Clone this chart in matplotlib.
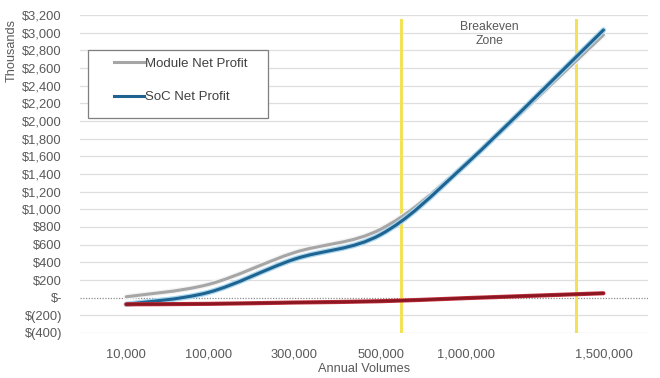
import numpy as np
import matplotlib
matplotlib.use("Agg")
import matplotlib.pyplot as plt
from matplotlib.path import Path
from matplotlib.patches import PathPatch, Rectangle
from matplotlib.lines import Line2D
import matplotlib.patheffects as pe

plt.rcParams['font.family'] = ['Liberation Sans', 'DejaVu Sans']

# data (thousands of $)
volumes = ['10,000', '100,000', '300,000', '500,000', '1,000,000', '1,500,000']
module_profit = [10, 150, 510, 775, 1520, 2975]
soc_profit = [-75, 60, 435, 715, 1515, 3030]
other_profit = [-75, -70, -55, -40, -5, 50]
breakeven_names = ['Breakeven\nZone']

# category positions on the axis (last label sits further right)
x_pos = [0.03, 0.99, 1.99, 3.0, 4.0, 5.6]
breakeven_x = [3.24, 5.28]

txt = '#595959'


def smooth_path(xs, ys):
    # excel style smoothed line: catmull-rom as cubic bezier
    pts = np.column_stack([xs, ys]).astype(float)
    n = len(pts)
    verts = [pts[0]]
    codes = [Path.MOVETO]
    for i in range(n - 1):
        p0 = pts[max(i - 1, 0)]
        p1 = pts[i]
        p2 = pts[i + 1]
        p3 = pts[min(i + 2, n - 1)]
        c1 = p1 + (p2 - p0) / 6.0
        c2 = p2 - (p3 - p1) / 6.0
        verts += [c1, c2, p2]
        codes += [Path.CURVE4] * 3
    return Path(verts, codes)


def money(v, pos=None):
    if v == 0:
        return '$-'
    if v < 0:
        return '$({:,.0f})'.format(-v)
    return '${:,.0f}'.format(v)


fig = plt.figure(figsize=(6.6, 3.78), dpi=100)
ax = fig.add_axes([80/660, 1-333/378, 568/660, 318/378])

ax.set_xlim(-0.51, 6.12)
ax.set_ylim(-400, 3200)
ax.set_yticks(np.arange(-400, 3201, 200))
ax.yaxis.set_major_formatter(plt.FuncFormatter(money))
ax.set_xticks(x_pos)
ax.set_xticklabels(volumes)
ax.tick_params(length=0, labelsize=9.3, colors=txt)
ax.tick_params(axis='x', pad=11)
ax.tick_params(axis='y', pad=13)
for s in ax.spines.values():
    s.set_visible(False)

for v in np.arange(-400, 3201, 200):
    if v == 0:
        ax.axhline(0, color='#8c8c8c', lw=0.9, ls=(0, (1, 1.2)), zorder=1)
    else:
        ax.axhline(v, color='#dedede', lw=0.9, zorder=1)

for bx in breakeven_x:
    ax.axvline(bx, color='#f4e15a', lw=2.2, ymax=0.985, ymin=0.0, zorder=2)

ax.text(4.27, 2985, breakeven_names[0], ha='center', va='center',
        fontsize=8.8, color=txt, linespacing=1.2)

series = [
    (module_profit, '#a6a6a6', '#f4f4f4', 'Module Net Profit', 2.2, 4.0),
    (soc_profit, '#1f6491', '#a9d6ef', 'SoC Net Profit', 2.2, 4.0),
    (other_profit, '#8a1722', '#c8323e', None, 2.0, 3.0),
]
for vals, col, glow, lab, lw, glw in series:
    patch = PathPatch(smooth_path(x_pos, vals), facecolor='none', edgecolor=col,
                      lw=lw, capstyle='round', zorder=4)
    patch.set_path_effects([pe.Stroke(linewidth=glw, foreground=glow), pe.Normal()])
    ax.add_patch(patch)

# legend box drawn separately (entries sit well inside it)
fig.add_artist(Rectangle((88/660, 1-118/378), 180/660, 68/378, transform=fig.transFigure,
                         facecolor='white', edgecolor='#7f7f7f', lw=0.9, zorder=5))
handles = [Line2D([], [], color='#a6a6a6', lw=2.2),
           Line2D([], [], color='#1f6491', lw=2.2)]
leg = fig.legend(handles, ['Module Net Profit', 'SoC Net Profit'],
                 loc='upper left', bbox_to_anchor=(111/660, 1-55/378),
                 borderaxespad=0, frameon=False, fontsize=9.5,
                 labelspacing=1.6, handlelength=2.3, handletextpad=0.1,
                 borderpad=0.2, labelcolor='#404040')
leg.set_zorder(6)

ax.set_xlabel('Annual Volumes', fontsize=9.2, color=txt, labelpad=2)
fig.text(12/660, 1-50/378, 'Thousands', rotation=90, ha='center', va='center',
         fontsize=9.2, color=txt)

fig.savefig('out.png', dpi=100)
